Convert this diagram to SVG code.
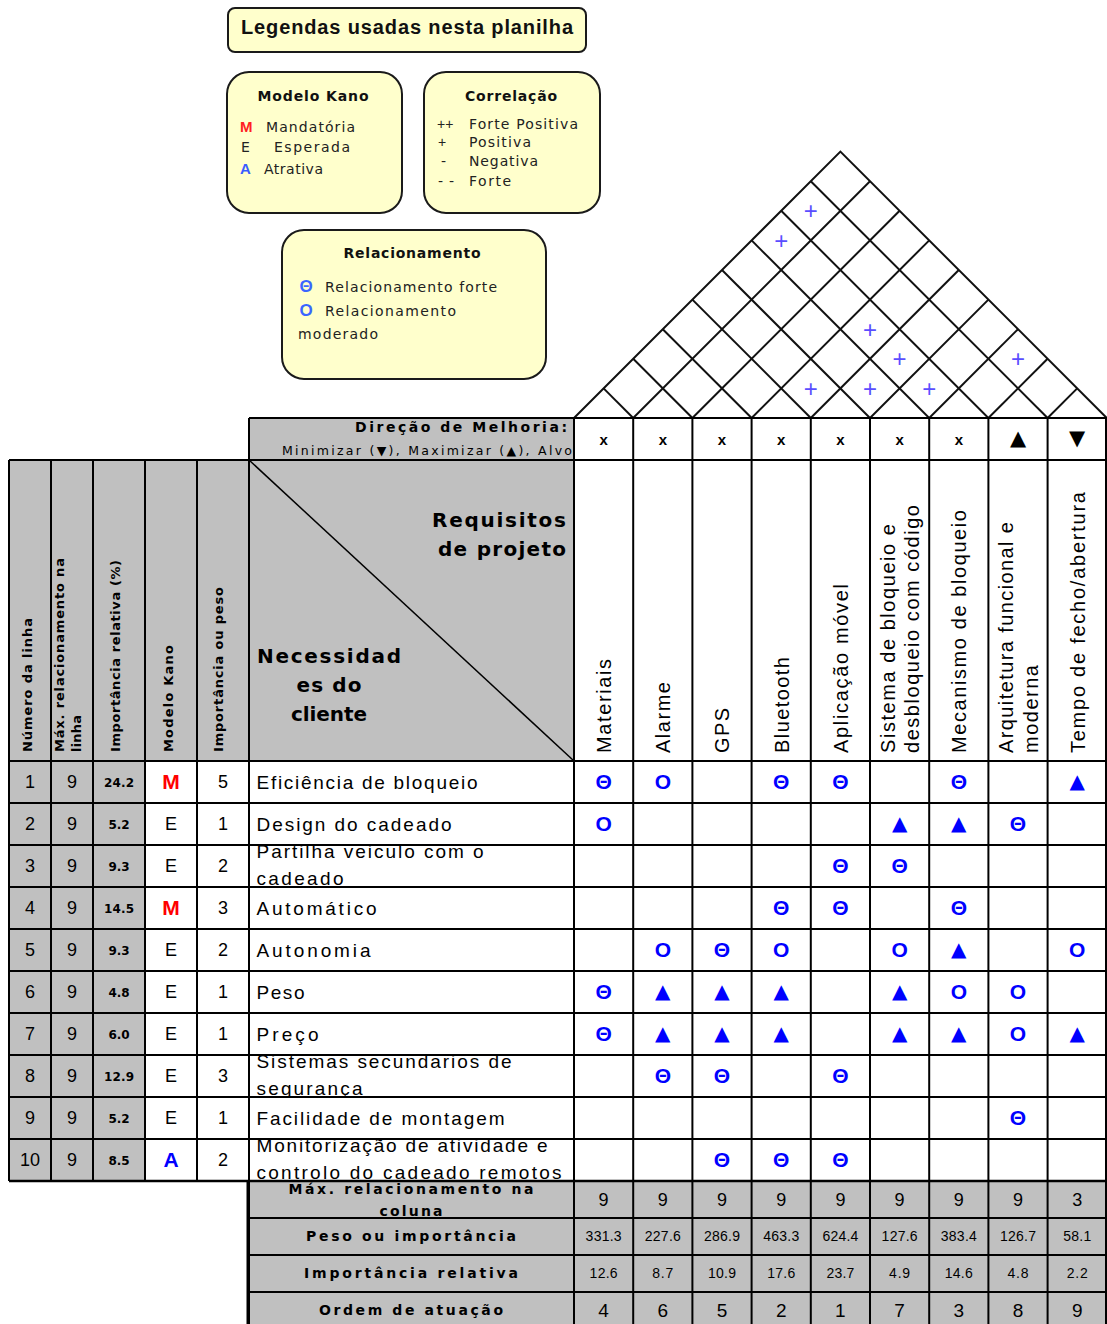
<svg xmlns="http://www.w3.org/2000/svg" width="1107" height="1324" viewBox="0 0 1107 1324">
<style>
text{font-family:"Liberation Sans",Arial,Helvetica,sans-serif}
.dv{font-family:"DejaVu Sans","Liberation Sans",sans-serif}
.lg{fill:#ffffcc;stroke:#1a1a1a;stroke-width:2}
.lt{font-family:"DejaVu Sans","Liberation Sans",sans-serif;font-size:14px;fill:#222}
.lh{font-family:"DejaVu Sans","Liberation Sans",sans-serif;font-size:14px;font-weight:bold;text-anchor:middle;fill:#111}
.grid line{stroke:#000;stroke-width:2}
.gray{fill:#c0c0c0}
.white{fill:#fff}
.roof line,.roof polyline{stroke:#111;stroke-width:2;fill:none}
.plus{font-size:24px;fill:#5a4dff;text-anchor:middle}
.th{font-size:21px;font-weight:bold;fill:#0000ff;text-anchor:middle}
.tri{font-family:"DejaVu Sans","Liberation Sans",sans-serif;font-size:20px;fill:#0000ff;text-anchor:middle}
.need{font-size:19px;fill:#000}
.num{font-size:18px;text-anchor:middle;fill:#000}
.imp{font-family:"DejaVu Sans","Liberation Sans",sans-serif;font-size:12px;font-weight:bold;text-anchor:middle;fill:#000}
.km{font-size:21px;font-weight:bold;fill:#ff0000;text-anchor:middle}
.ka{font-size:21px;font-weight:bold;fill:#0000ff;text-anchor:middle}
.colh{font-size:20px;fill:#000}
.lefth{font-family:"DejaVu Sans","Liberation Sans",sans-serif;font-size:13px;font-weight:bold;fill:#000}
.bl{font-family:"DejaVu Sans","Liberation Sans",sans-serif;font-size:14px;font-weight:bold;text-anchor:middle;fill:#000}
.hd{font-family:"DejaVu Sans","Liberation Sans",sans-serif;font-size:20px;font-weight:bold;fill:#000}
.v1{font-size:18px;text-anchor:middle;fill:#000}
.v2{font-size:14px;text-anchor:middle;fill:#000}
.v4{font-size:19px;text-anchor:middle;fill:#000}
.dx{font-size:15px;font-weight:bold;text-anchor:middle;fill:#000}
.dt{font-family:"DejaVu Sans","Liberation Sans",sans-serif;font-size:21px;text-anchor:middle;fill:#000}
</style>
<defs>
<clipPath id="c3"><rect x="249" y="845" width="325" height="42"/></clipPath>
<clipPath id="c8"><rect x="249" y="1055" width="325" height="42"/></clipPath>
<clipPath id="c10"><rect x="249" y="1139" width="325" height="42"/></clipPath>
<clipPath id="cb1"><rect x="249" y="1182" width="325" height="36"/></clipPath>
</defs>

<g id="legend-title">
<rect class="lg" x="228" y="8" width="358" height="44" rx="7"/>
<text x="407" y="34" font-size="20" font-weight="bold" text-anchor="middle" textLength="332" fill="#111">Legendas usadas nesta planilha</text>
</g>

<g id="legend-kano">
<rect class="lg" x="227" y="72" width="175" height="141" rx="22"/>
<text class="lh" x="313" y="101" textLength="111">Modelo Kano</text>
<text x="240" y="132" font-size="15" font-weight="bold" style="fill:#ff2020">M</text>
<text class="lt" x="266" y="132" textLength="89">Mandatória</text>
<text class="lt" x="241" y="152">E</text>
<text class="lt" x="274" y="152" textLength="76">Esperada</text>
<text x="240" y="174" font-size="15" font-weight="bold" style="fill:#3a5cff">A</text>
<text class="lt" x="264" y="174" textLength="59">Atrativa</text>
</g>

<g id="legend-correlacao">
<rect class="lg" x="424" y="72" width="176" height="141" rx="22"/>
<text class="lh" x="511" y="101" textLength="92">Correlação</text>
<text x="437" y="129" font-size="14" style="fill:#222">++</text>
<text class="lt" x="469" y="129" textLength="109">Forte Positiva</text>
<text x="438" y="147" font-size="14" style="fill:#222">+</text>
<text class="lt" x="469" y="147" textLength="62">Positiva</text>
<text class="lt" x="441" y="166">-</text>
<text class="lt" x="469" y="166" textLength="69">Negativa</text>
<text class="lt" x="438" y="186" textLength="16">- -</text>
<text class="lt" x="469" y="186" textLength="42">Forte</text>
</g>

<g id="legend-relacionamento">
<rect class="lg" x="282" y="230" width="264" height="149" rx="22"/>
<text class="lh" x="412" y="258" textLength="137">Relacionamento</text>
<text x="306" y="292" font-size="17" font-weight="bold" text-anchor="middle" style="fill:#3a66ff">Θ</text>
<text class="lt" x="325" y="292" textLength="172">Relacionamento forte</text>
<text x="306" y="316" font-size="17" font-weight="bold" text-anchor="middle" style="fill:#3a66ff">O</text>
<text class="lt" x="325" y="316" textLength="131">Relacionamento</text>
<text class="lt" x="298" y="339" textLength="80">moderado</text>
</g>

<g id="backgrounds">
<rect class="gray" x="249" y="418" width="325" height="42"/>
<rect class="white" x="574" y="418" width="533" height="42"/>
<rect class="gray" x="9" y="460" width="565" height="301"/>
<rect class="white" x="574" y="460" width="533" height="301"/>
<rect class="gray" x="9" y="761" width="136" height="420"/>
<rect class="white" x="145" y="761" width="962" height="420"/>
<rect class="gray" x="249" y="1181" width="858" height="143"/>
</g>

<g id="roof" class="roof">
<polyline points="574,418 840.4,151.6 1106.8,418"/>
<line x1="633.2" y1="418" x2="870" y2="181.2"/><line x1="633.2" y1="418" x2="603.6" y2="388.4"/>
<line x1="692.4" y1="418" x2="899.6" y2="210.8"/><line x1="692.4" y1="418" x2="633.2" y2="358.8"/>
<line x1="751.6" y1="418" x2="929.2" y2="240.4"/><line x1="751.6" y1="418" x2="662.8" y2="329.2"/>
<line x1="810.8" y1="418" x2="958.8" y2="270"/><line x1="810.8" y1="418" x2="692.4" y2="299.6"/>
<line x1="870" y1="418" x2="988.4" y2="299.6"/><line x1="870" y1="418" x2="722" y2="270"/>
<line x1="929.2" y1="418" x2="1018" y2="329.2"/><line x1="929.2" y1="418" x2="751.6" y2="240.4"/>
<line x1="988.4" y1="418" x2="1047.6" y2="358.8"/><line x1="988.4" y1="418" x2="781.2" y2="210.8"/>
<line x1="1047.6" y1="418" x2="1077.2" y2="388.4"/><line x1="1047.6" y1="418" x2="810.8" y2="181.2"/>
</g>
<g id="roof-correlations">
<text class="plus" x="810.8" y="397">+</text>
<text class="plus" x="870" y="397">+</text>
<text class="plus" x="929.2" y="397">+</text>
<text class="plus" x="899.6" y="367">+</text>
<text class="plus" x="1018" y="367">+</text>
<text class="plus" x="870" y="338">+</text>
<text class="plus" x="781.2" y="249">+</text>
<text class="plus" x="810.8" y="219">+</text>
</g>

<g id="grid" class="grid">
<line x1="249" y1="418" x2="1107" y2="418"/>
<line x1="9" y1="460" x2="1107" y2="460"/>
<line x1="9" y1="761" x2="1107" y2="761"/>
<line x1="9" y1="803" x2="1107" y2="803"/>
<line x1="9" y1="845" x2="1107" y2="845"/>
<line x1="9" y1="887" x2="1107" y2="887"/>
<line x1="9" y1="929" x2="1107" y2="929"/>
<line x1="9" y1="971" x2="1107" y2="971"/>
<line x1="9" y1="1013" x2="1107" y2="1013"/>
<line x1="9" y1="1055" x2="1107" y2="1055"/>
<line x1="9" y1="1097" x2="1107" y2="1097"/>
<line x1="9" y1="1139" x2="1107" y2="1139"/>
<line x1="249" y1="1218" x2="1107" y2="1218"/>
<line x1="249" y1="1255" x2="1107" y2="1255"/>
<line x1="249" y1="1292" x2="1107" y2="1292"/>
<line x1="9" y1="460" x2="9" y2="1181"/>
<line x1="51" y1="460" x2="51" y2="1181"/>
<line x1="93" y1="460" x2="93" y2="1181"/>
<line x1="145" y1="460" x2="145" y2="1181"/>
<line x1="197" y1="460" x2="197" y2="1181"/>
<line x1="249" y1="418" x2="249" y2="1324"/>
<line x1="574" y1="418" x2="574" y2="1324"/>
<line x1="633.2" y1="418" x2="633.2" y2="1324"/>
<line x1="692.4" y1="418" x2="692.4" y2="1324"/>
<line x1="751.6" y1="418" x2="751.6" y2="1324"/>
<line x1="810.8" y1="418" x2="810.8" y2="1324"/>
<line x1="870" y1="418" x2="870" y2="1324"/>
<line x1="929.2" y1="418" x2="929.2" y2="1324"/>
<line x1="988.4" y1="418" x2="988.4" y2="1324"/>
<line x1="1047.6" y1="418" x2="1047.6" y2="1324"/>
<line x1="1106" y1="418" x2="1106" y2="1324"/>
<line x1="249" y1="460" x2="574" y2="761" style="stroke-width:1.5"/>
</g>

<g id="direction-row">
<text class="dv" x="567" y="432" font-size="14" font-weight="bold" text-anchor="end" textLength="212">Direção de Melhoria:</text>
<text class="dv" x="572" y="455" font-size="12.5" text-anchor="end" textLength="290">Minimizar (▼), Maximizar (▲), Alvo</text>
<text class="dx" x="603.6" y="445">x</text>
<text class="dx" x="662.8" y="445">x</text>
<text class="dx" x="722" y="445">x</text>
<text class="dx" x="781.2" y="445">x</text>
<text class="dx" x="840.4" y="445">x</text>
<text class="dx" x="899.6" y="445">x</text>
<text class="dx" x="958.8" y="445">x</text>
<text class="dt" x="1018" y="445">▲</text>
<text class="dt" x="1077.2" y="445">▼</text>
</g>

<g id="left-headers">
<text class="lefth" transform="translate(32,752) rotate(-90)" textLength="134">Número da linha</text>
<text class="lefth" transform="translate(64,752) rotate(-90)" textLength="194">Máx. relacionamento na</text>
<text class="lefth" transform="translate(81,752) rotate(-90)" textLength="37">linha</text>
<text class="lefth" transform="translate(120,752) rotate(-90)" textLength="192">Importância relativa (%)</text>
<text class="lefth" transform="translate(173,752) rotate(-90)" textLength="107">Modelo Kano</text>
<text class="lefth" transform="translate(223,752) rotate(-90)" textLength="165">Importância ou peso</text>
</g>

<g id="corner-header">
<text class="hd" x="566" y="527" text-anchor="end" textLength="134">Requisitos</text>
<text class="hd" x="566" y="556" text-anchor="end" textLength="128">de projeto</text>
<text class="hd" x="329" y="663" text-anchor="middle" textLength="144">Necessidad</text>
<text class="hd" x="329" y="692" text-anchor="middle" textLength="65">es do</text>
<text class="hd" x="329" y="721" text-anchor="middle" textLength="76">cliente</text>
</g>

<g id="requirement-headers">
<text class="colh" transform="translate(611,753) rotate(-90)" textLength="94">Materiais</text>
<text class="colh" transform="translate(670.2,753) rotate(-90)" textLength="71">Alarme</text>
<text class="colh" transform="translate(729.4,753) rotate(-90)" textLength="45">GPS</text>
<text class="colh" transform="translate(788.6,753) rotate(-90)" textLength="96">Bluetooth</text>
<text class="colh" transform="translate(847.8,753) rotate(-90)" textLength="169">Aplicação móvel</text>
<text class="colh" transform="translate(894.5,753) rotate(-90)" textLength="229">Sistema de bloqueio e</text>
<text class="colh" transform="translate(919,753) rotate(-90)" textLength="248">desbloqueio com código</text>
<text class="colh" transform="translate(966.2,753) rotate(-90)" textLength="243">Mecanismo de bloqueio</text>
<text class="colh" transform="translate(1013,753) rotate(-90)" textLength="231">Arquitetura funcional e</text>
<text class="colh" transform="translate(1038,753) rotate(-90)" textLength="88">moderna</text>
<text class="colh" transform="translate(1084.6,753) rotate(-90)" textLength="261">Tempo de fecho/abertura</text>
</g>

<g id="row-1">
<text class="num" x="30" y="788">1</text><text class="num" x="72" y="788">9</text><text class="imp" x="119" y="787" textLength="30">24.2</text>
<text class="km" x="171" y="789">M</text><text class="num" x="223" y="788">5</text>
<text class="need" x="256.5" y="788.5" textLength="221">Eficiência de bloqueio</text>
</g>
<g id="row-2">
<text class="num" x="30" y="830">2</text><text class="num" x="72" y="830">9</text><text class="imp" x="119" y="829" textLength="21">5.2</text>
<text class="num" x="171" y="830">E</text><text class="num" x="223" y="830">1</text>
<text class="need" x="256.5" y="830.5" textLength="195">Design do cadeado</text>
</g>
<g id="row-3">
<text class="num" x="30" y="872">3</text><text class="num" x="72" y="872">9</text><text class="imp" x="119" y="871" textLength="21">9.3</text>
<text class="num" x="171" y="872">E</text><text class="num" x="223" y="872">2</text>
<g clip-path="url(#c3)"><text class="need" x="256.5" y="858" textLength="227">Partilha veiculo com o</text><text class="need" x="256.5" y="885" textLength="87">cadeado</text></g>
</g>
<g id="row-4">
<text class="num" x="30" y="914">4</text><text class="num" x="72" y="914">9</text><text class="imp" x="119" y="913" textLength="30">14.5</text>
<text class="km" x="171" y="915">M</text><text class="num" x="223" y="914">3</text>
<text class="need" x="256.5" y="914.5" textLength="120">Automático</text>
</g>
<g id="row-5">
<text class="num" x="30" y="956">5</text><text class="num" x="72" y="956">9</text><text class="imp" x="119" y="955" textLength="21">9.3</text>
<text class="num" x="171" y="956">E</text><text class="num" x="223" y="956">2</text>
<text class="need" x="256.5" y="956.5" textLength="114">Autonomia</text>
</g>
<g id="row-6">
<text class="num" x="30" y="998">6</text><text class="num" x="72" y="998">9</text><text class="imp" x="119" y="997" textLength="21">4.8</text>
<text class="num" x="171" y="998">E</text><text class="num" x="223" y="998">1</text>
<text class="need" x="256.5" y="998.5" textLength="48">Peso</text>
</g>
<g id="row-7">
<text class="num" x="30" y="1040">7</text><text class="num" x="72" y="1040">9</text><text class="imp" x="119" y="1039" textLength="21">6.0</text>
<text class="num" x="171" y="1040">E</text><text class="num" x="223" y="1040">1</text>
<text class="need" x="256.5" y="1040.5" textLength="62">Preço</text>
</g>
<g id="row-8">
<text class="num" x="30" y="1082">8</text><text class="num" x="72" y="1082">9</text><text class="imp" x="119" y="1081" textLength="30">12.9</text>
<text class="num" x="171" y="1082">E</text><text class="num" x="223" y="1082">3</text>
<g clip-path="url(#c8)"><text class="need" x="256.5" y="1068" textLength="255">Sistemas secundarios de</text><text class="need" x="256.5" y="1095" textLength="106">segurança</text></g>
</g>
<g id="row-9">
<text class="num" x="30" y="1124">9</text><text class="num" x="72" y="1124">9</text><text class="imp" x="119" y="1123" textLength="21">5.2</text>
<text class="num" x="171" y="1124">E</text><text class="num" x="223" y="1124">1</text>
<text class="need" x="256.5" y="1124.5" textLength="248">Facilidade de montagem</text>
</g>
<g id="row-10">
<text class="num" x="30" y="1166">10</text><text class="num" x="72" y="1166">9</text><text class="imp" x="119" y="1165" textLength="21">8.5</text>
<text class="ka" x="171" y="1167">A</text><text class="num" x="223" y="1166">2</text>
<g clip-path="url(#c10)"><text class="need" x="256.5" y="1152" textLength="291">Monitorização de atividade e</text><text class="need" x="256.5" y="1179" textLength="305">controlo do cadeado remotos</text></g>
</g>

<g id="relationships">
<text class="th" x="603.6" y="789">Θ</text><text class="th" x="662.8" y="789">O</text><text class="th" x="781.2" y="789">Θ</text><text class="th" x="840.4" y="789">Θ</text><text class="th" x="958.8" y="789">Θ</text><text class="tri" x="1077.2" y="788">▲</text>
<text class="th" x="603.6" y="831">O</text><text class="tri" x="899.6" y="830">▲</text><text class="tri" x="958.8" y="830">▲</text><text class="th" x="1018" y="831">Θ</text>
<text class="th" x="840.4" y="873">Θ</text><text class="th" x="899.6" y="873">Θ</text>
<text class="th" x="781.2" y="915">Θ</text><text class="th" x="840.4" y="915">Θ</text><text class="th" x="958.8" y="915">Θ</text>
<text class="th" x="662.8" y="957">O</text><text class="th" x="722" y="957">Θ</text><text class="th" x="781.2" y="957">O</text><text class="th" x="899.6" y="957">O</text><text class="tri" x="958.8" y="956">▲</text><text class="th" x="1077.2" y="957">O</text>
<text class="th" x="603.6" y="999">Θ</text><text class="tri" x="662.8" y="998">▲</text><text class="tri" x="722" y="998">▲</text><text class="tri" x="781.2" y="998">▲</text><text class="tri" x="899.6" y="998">▲</text><text class="th" x="958.8" y="999">O</text><text class="th" x="1018" y="999">O</text>
<text class="th" x="603.6" y="1041">Θ</text><text class="tri" x="662.8" y="1040">▲</text><text class="tri" x="722" y="1040">▲</text><text class="tri" x="781.2" y="1040">▲</text><text class="tri" x="899.6" y="1040">▲</text><text class="tri" x="958.8" y="1040">▲</text><text class="th" x="1018" y="1041">O</text><text class="tri" x="1077.2" y="1040">▲</text>
<text class="th" x="662.8" y="1083">Θ</text><text class="th" x="722" y="1083">Θ</text><text class="th" x="840.4" y="1083">Θ</text>
<text class="th" x="1018" y="1125">Θ</text>
<text class="th" x="722" y="1167">Θ</text><text class="th" x="781.2" y="1167">Θ</text><text class="th" x="840.4" y="1167">Θ</text>
</g>

<g id="bottom-table">
<line x1="9" y1="1181" x2="1107" y2="1181" stroke="#000" stroke-width="2.5"/>
<line x1="248" y1="1181" x2="248" y2="1324" stroke="#000" stroke-width="3"/>
<g clip-path="url(#cb1)"><text class="bl" x="411" y="1194" textLength="245">Máx. relacionamento na</text><text class="bl" x="411" y="1216" textLength="63">coluna</text></g>
<text class="bl" x="411" y="1241" textLength="210">Peso ou importância</text>
<text class="bl" x="411" y="1278" textLength="214">Importância relativa</text>
<text class="bl" x="411" y="1315" textLength="184">Ordem de atuação</text>
<text class="v1" x="603.6" y="1206">9</text><text class="v1" x="662.8" y="1206">9</text><text class="v1" x="722" y="1206">9</text><text class="v1" x="781.2" y="1206">9</text><text class="v1" x="840.4" y="1206">9</text><text class="v1" x="899.6" y="1206">9</text><text class="v1" x="958.8" y="1206">9</text><text class="v1" x="1018" y="1206">9</text><text class="v1" x="1077.2" y="1206">3</text>
<text class="v2" x="603.6" y="1241" textLength="36">331.3</text><text class="v2" x="662.8" y="1241" textLength="36">227.6</text><text class="v2" x="722" y="1241" textLength="36">286.9</text><text class="v2" x="781.2" y="1241" textLength="36">463.3</text><text class="v2" x="840.4" y="1241" textLength="36">624.4</text><text class="v2" x="899.6" y="1241" textLength="36">127.6</text><text class="v2" x="958.8" y="1241" textLength="36">383.4</text><text class="v2" x="1018" y="1241" textLength="36">126.7</text><text class="v2" x="1077.2" y="1241" textLength="28">58.1</text>
<text class="v2" x="603.6" y="1278" textLength="28">12.6</text><text class="v2" x="662.8" y="1278" textLength="21">8.7</text><text class="v2" x="722" y="1278" textLength="28">10.9</text><text class="v2" x="781.2" y="1278" textLength="28">17.6</text><text class="v2" x="840.4" y="1278" textLength="28">23.7</text><text class="v2" x="899.6" y="1278" textLength="21">4.9</text><text class="v2" x="958.8" y="1278" textLength="28">14.6</text><text class="v2" x="1018" y="1278" textLength="21">4.8</text><text class="v2" x="1077.2" y="1278" textLength="21">2.2</text>
<text class="v4" x="603.6" y="1317">4</text><text class="v4" x="662.8" y="1317">6</text><text class="v4" x="722" y="1317">5</text><text class="v4" x="781.2" y="1317">2</text><text class="v4" x="840.4" y="1317">1</text><text class="v4" x="899.6" y="1317">7</text><text class="v4" x="958.8" y="1317">3</text><text class="v4" x="1018" y="1317">8</text><text class="v4" x="1077.2" y="1317">9</text>
</g>

<g id="connectors"></g>
</svg>
